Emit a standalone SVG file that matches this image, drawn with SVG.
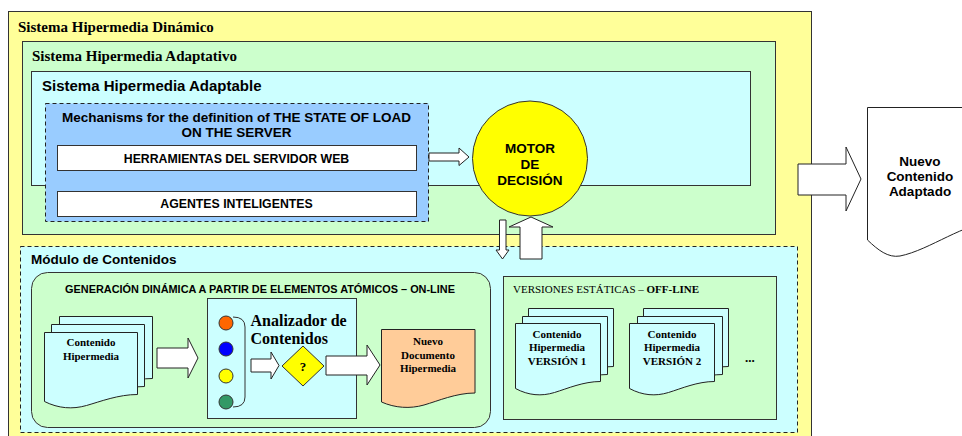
<svg xmlns="http://www.w3.org/2000/svg" xmlns:xlink="http://www.w3.org/1999/xlink" width="962" height="436" viewBox="0 0 962 436">
  <style>
    .box { stroke: #333; stroke-width: 1; }
    .dash { stroke: #222; stroke-width: 1; stroke-dasharray: 4 3; }
    .yel { fill: #FFFF99; }
    .grn { fill: #CCFFCC; }
    .cyn { fill: #CCFFFF; }
    .blu { fill: #99CCFF; }
    .wht { fill: #FFFFFF; }
    .org { fill: #FFCC99; }
    .arrow { fill: #FFFFFF; stroke: #222; stroke-width: 1; stroke-linejoin: miter; }
    .doc { stroke: #222; stroke-width: 1; }
    .sans { font-family: "Liberation Sans", Arial, sans-serif; font-weight: bold; fill: #000; }
    .serif { font-family: "Liberation Serif", "Times New Roman", serif; fill: #000; }
    .b { font-weight: bold; }
    .mid { text-anchor: middle; }
  </style>
  <defs>
    <!-- page with a wavy lower edge, for the content stacks -->
    <path id="docA" d="M0,0 H93 V62 c-19,0 -37,7 -51,11 c-14,4 -28,3 -42,-4 Z"/>
    <path id="docB" d="M0,0 H85 V58 c-17,0 -33,7 -46,11 c-13,4 -26,3 -39,-4 Z"/>
  </defs>

  <!-- nested system containers -->
  <g id="sistema-dinamico">
    <rect class="box yel" x="8.5" y="11.5" width="803" height="440"/>
    <text class="serif b" x="18" y="32" font-size="15">Sistema Hipermedia Dinámico</text>
  </g>
  <g id="sistema-adaptativo">
    <rect class="box grn" x="22.5" y="41.5" width="753" height="193"/>
    <text class="serif b" x="32" y="61" font-size="15">Sistema Hipermedia Adaptativo</text>
  </g>
  <g id="sistema-adaptable">
    <rect class="box cyn" x="31.5" y="71.5" width="719" height="114"/>
    <text class="sans" x="42" y="91" font-size="15">Sistema Hipermedia Adaptable</text>
  </g>

  <g id="mecanismos">
    <rect class="dash blu" x="45.5" y="103.5" width="383" height="118"/>
    <text class="sans mid" x="236.5" y="122" font-size="13.5">Mechanisms for the definition of THE STATE OF LOAD</text>
    <text class="sans mid" x="236.5" y="137" font-size="13.5">ON THE SERVER</text>
  </g>
  <g id="herramientas">
    <rect class="box wht" x="57.5" y="145.5" width="359" height="25"/>
    <text class="sans mid" x="236.5" y="162.5" font-size="12.3">HERRAMIENTAS DEL SERVIDOR WEB</text>
  </g>
  <g id="agentes">
    <rect class="box wht" x="57.5" y="191.5" width="359" height="25"/>
    <text class="sans mid" x="236.5" y="208" font-size="12.3">AGENTES INTELIGENTES</text>
  </g>

  <g id="motor">
    <circle cx="530" cy="158.5" r="57.5" fill="#FFFF00" stroke="#333" stroke-width="1"/>
    <text class="sans mid" x="530" y="153" font-size="13.5">MOTOR</text>
    <text class="sans mid" x="530" y="168.5" font-size="13.5">DE</text>
    <text class="sans mid" x="530" y="185" font-size="13.5">DECISIÓN</text>
  </g>

  <g id="nuevo-contenido">
    <path class="doc wht" d="M867.5,107.5 H995 V222 C965,222 930,250 900,256 C888,258 878,250 867.5,240 Z"/>
    <text class="sans mid" x="920" y="166" font-size="13.5">Nuevo</text>
    <text class="sans mid" x="920" y="181" font-size="13.5">Contenido</text>
    <text class="sans mid" x="920" y="196" font-size="13.5">Adaptado</text>
  </g>

  <!-- content module -->
  <g id="modulo-contenidos">
    <rect class="dash cyn" x="20.5" y="246.5" width="777" height="186"/>
    <text class="sans" x="31" y="264" font-size="13.5">Módulo de Contenidos</text>
  </g>
  <g id="generacion-dinamica">
    <rect class="box grn" x="31.5" y="272.5" width="459" height="155" rx="16"/>
    <text class="sans mid" x="260" y="293" font-size="10.9">GENERACIÓN DINÁMICA A PARTIR DE ELEMENTOS ATÓMICOS – ON-LINE</text>
  </g>
  <g id="contenido-hipermedia">
    <use xlink:href="#docA" class="doc cyn" x="59.5" y="316.5"/>
    <use xlink:href="#docA" class="doc cyn" x="51.5" y="324.5"/>
    <use xlink:href="#docA" class="doc cyn" x="44.5" y="332.5"/>
    <text class="serif b mid" x="91" y="346" font-size="11">Contenido</text>
    <text class="serif b mid" x="91" y="359.5" font-size="11">Hipermedia</text>
  </g>
  <g id="analizador">
    <rect class="box cyn" x="207.5" y="298.5" width="149" height="120"/>
    <circle cx="226" cy="323" r="7" fill="#FF6600" stroke="#333"/>
    <circle cx="226" cy="349" r="7" fill="#0000FF" stroke="#333"/>
    <circle cx="226" cy="376" r="7" fill="#FFFF00" stroke="#333"/>
    <circle cx="226" cy="402" r="7" fill="#339966" stroke="#333"/>
    <path d="M233,317 Q245,317 245,327 V397 Q245,407 233,407" fill="none" stroke="#333"/>
    <text class="serif b" x="250.5" y="325.5" font-size="16">Analizador de</text>
    <text class="serif b" x="250.5" y="343.5" font-size="16">Contenidos</text>
  </g>
  <g id="decision">
    <polygon points="303,346 324,366 303,386 282,366" fill="#FFFF00" stroke="#333"/>
    <text class="serif b mid" x="303" y="371" font-size="13">?</text>
  </g>
  <g id="nuevo-documento">
    <path class="doc org" d="M381.5,329.5 H475 V393 c-19,0 -37,8 -51,12 c-14,4 -29,3 -42.5,-3 Z"/>
    <text class="serif b mid" x="428" y="345" font-size="11">Nuevo</text>
    <text class="serif b mid" x="428" y="358.5" font-size="11">Documento</text>
    <text class="serif b mid" x="428" y="372" font-size="11">Hipermedia</text>
  </g>
  <g id="versiones-estaticas">
    <rect class="box grn" x="503.5" y="276.5" width="273" height="143"/>
    <text class="serif" x="513" y="293" font-size="11">VERSIONES ESTÁTICAS – <tspan class="b">OFF-LINE</tspan></text>
  </g>
  <g id="version-1">
    <use xlink:href="#docB" class="doc cyn" x="528.5" y="308.5"/>
    <use xlink:href="#docB" class="doc cyn" x="522.5" y="316.5"/>
    <use xlink:href="#docB" class="doc cyn" x="515.5" y="323.5"/>
    <text class="serif b mid" x="557" y="338" font-size="11">Contenido</text>
    <text class="serif b mid" x="557" y="351" font-size="11">Hipermedia</text>
    <text class="serif b mid" x="557" y="364.5" font-size="11">VERSIÓN 1</text>
  </g>
  <g id="version-2">
    <use xlink:href="#docB" class="doc cyn" x="643.5" y="308.5"/>
    <use xlink:href="#docB" class="doc cyn" x="637.5" y="316.5"/>
    <use xlink:href="#docB" class="doc cyn" x="629.5" y="323.5"/>
    <text class="serif b mid" x="672" y="338" font-size="11">Contenido</text>
    <text class="serif b mid" x="672" y="351" font-size="11">Hipermedia</text>
    <text class="serif b mid" x="672" y="364.5" font-size="11">VERSIÓN 2</text>
  </g>
  <g id="mas-versiones">
    <text class="serif b" x="745" y="362" font-size="13">...</text>
  </g>

  <!-- block arrows -->
  <g id="connectors">
    <polygon class="arrow" points="429,153 459,153 459,148 469,157 459,165.5 459,161 429,161"/>
    <polygon class="arrow" points="499.5,220 506,220 506,250 509,250 502.5,259 496,250 499.5,250"/>
    <polygon class="arrow" points="520,259 542,259 542,227 553,227 531,217 509,227 520,227"/>
    <polygon class="arrow" points="798,164 846,164 846,147 861,179 846,211 846,195 798,195"/>
    <polygon class="arrow" points="157,348 188,348 188,338 198,358 188,378 188,368 157,368"/>
    <polygon class="arrow" points="251,359 271,359 271,352 279,365.5 271,379 271,372 251,372"/>
    <polygon class="arrow" points="326,356 367,356 367,345 380,365 367,385 367,375 326,375"/>
  </g>
</svg>
